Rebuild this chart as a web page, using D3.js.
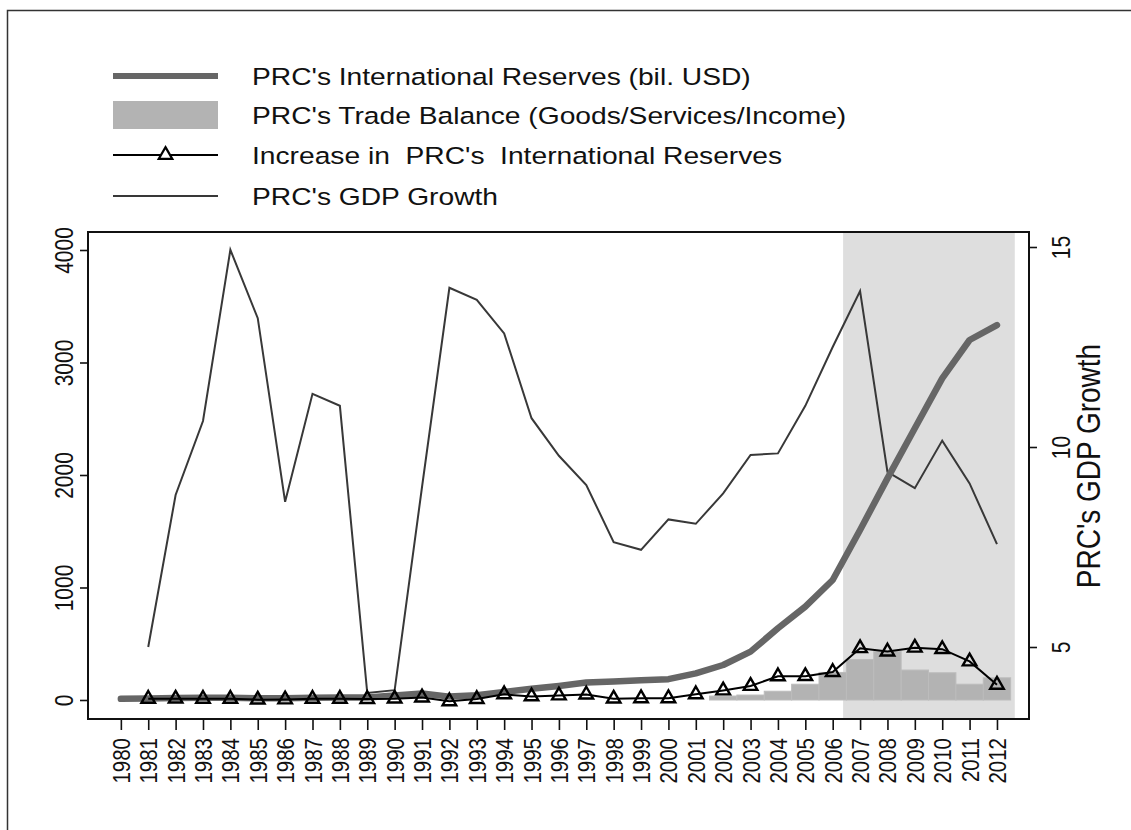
<!DOCTYPE html>
<html>
<head>
<meta charset="utf-8">
<script src="https://cdn.jsdelivr.net/npm/d3@7"></script>
<style>
  html, body { margin: 0; padding: 0; background: #fff; }
  svg { display: block; }
  text { font-family: "Liberation Sans", Arial, Helvetica, sans-serif; fill: #111; }
</style>
</head>
<body>
<svg id="chart" width="1131" height="830"></svg>
<script>
// ---------------- data ----------------
const years = d3.range(1980, 2013);
const reserves = [10, 14, 17, 19, 20, 16, 16, 20, 22, 22, 40, 58, 30, 42, 72, 100, 125, 155, 165, 175, 185, 237, 311, 430, 637, 830, 1067, 1511, 1970, 2415, 2859, 3200, 3333];
const incYears = d3.range(1981, 2013);
const increase = [10, 12, 10, 10, 3, 5, 10, 10, 8, 12, 22, -12, 8, 50, 32, 40, 48, 12, 15, 15, 50, 85, 125, 210, 212, 248, 460, 430, 465, 452, 343, 135];
const gdpYears = d3.range(1981, 2013);
const gdp = [5.0, 8.8, 10.65, 14.93, 13.22, 8.63, 11.33, 11.03, 3.85, 3.92, 9.0, 13.98, 13.68, 12.84, 10.72, 9.78, 9.05, 7.62, 7.43, 8.19, 8.08, 8.84, 9.8, 9.84, 11.03, 12.5, 13.9, 9.38, 8.97, 10.16, 9.09, 7.57];
const tradeYears = d3.range(2002, 2013);
const trade = [35, 44, 78, 140, 245, 360, 432, 266, 242, 140, 197];
const shadeSpan = [2006.38, 2012.65];
const leftTicks = [0, 1000, 2000, 3000, 4000];
const rightTicks = [5, 10, 15];
const legendLabels = [
  "PRC's International Reserves (bil. USD)",
  "PRC's Trade Balance (Goods/Services/Income)",
  "Increase in  PRC's  International Reserves",
  "PRC's GDP Growth"
];
const rightTitle = "PRC's GDP Growth";

// ---------------- layout ----------------
const SX = 1.2; // horizontal text stretch of the original
const plot = { l: 88, r: 1029, t: 232, b: 719 };
const svg = d3.select("#chart");

const x = d3.scaleLinear().domain([1978.8, 2013.17]).range([plot.l, plot.r]);
const yL = d3.scaleLinear().domain([-169, 4160]).range([plot.b, plot.t]);
const yR = d3.scaleLinear().domain([3.2, 15.375]).range([plot.b, plot.t]);
const step = x(1981) - x(1980);

// outer border
svg.append("rect").attr("x", 7.5).attr("y", 10.5).attr("width", 1200).attr("height", 900)
  .attr("fill", "none").attr("stroke", "#333").attr("stroke-width", 1.5);

// shading
svg.append("rect")
  .attr("x", x(shadeSpan[0])).attr("y", plot.t)
  .attr("width", x(shadeSpan[1]) - x(shadeSpan[0])).attr("height", plot.b - plot.t)
  .attr("fill", "#dedede");

// bars
svg.append("g").selectAll("rect").data(tradeYears).join("rect")
  .attr("x", d => x(d) - step / 2)
  .attr("width", step)
  .attr("y", (d, i) => yL(Math.max(0, trade[i])))
  .attr("height", (d, i) => Math.abs(yL(trade[i]) - yL(0)))
  .attr("fill", "#b3b3b3")
  .attr("stroke", "#bcbcbc").attr("stroke-width", 1);

// GDP line
svg.append("path")
  .datum(gdpYears.map((yr, i) => [yr, gdp[i]]))
  .attr("fill", "none").attr("stroke", "#383838").attr("stroke-width", 2)
  .attr("d", d3.line().x(d => x(d[0])).y(d => yR(d[1])));

// reserves thick line
svg.append("path")
  .datum(years.map((yr, i) => [yr, reserves[i]]))
  .attr("fill", "none").attr("stroke", "#666").attr("stroke-width", 6.5)
  .attr("stroke-linecap", "round").attr("stroke-linejoin", "round")
  .attr("d", d3.line().x(d => x(d[0])).y(d => yL(d[1])));

// increase line + triangles
const incData = incYears.map((yr, i) => [yr, increase[i]]);
svg.append("path")
  .datum(incData)
  .attr("fill", "none").attr("stroke", "#000").attr("stroke-width", 2)
  .attr("d", d3.line().x(d => x(d[0])).y(d => yL(d[1])));
const tri = d3.symbol().type(d3.symbolTriangle).size(80);
svg.append("g").selectAll("path").data(incData).join("path")
  .attr("transform", d => `translate(${x(d[0])},${yL(d[1])})`)
  .attr("d", tri)
  .attr("fill", "none").attr("stroke", "#000").attr("stroke-width", 2.4);

// frame
svg.append("rect").attr("x", plot.l).attr("y", plot.t)
  .attr("width", plot.r - plot.l).attr("height", plot.b - plot.t)
  .attr("fill", "none").attr("stroke", "#111").attr("stroke-width", 2);

// left axis
const gL = svg.append("g").attr("transform", `translate(${plot.l},0)`)
  .call(d3.axisLeft(yL).tickValues(leftTicks).tickSize(8).tickFormat(d3.format("d")));
gL.select(".domain").remove();
gL.selectAll(".tick line").attr("stroke", "#111").attr("stroke-width", 1.6);
gL.selectAll(".tick text")
  .attr("x", null).attr("dy", null).attr("y", null)
  .attr("transform", `translate(-15,0) scale(${SX},1) rotate(-90)`)
  .attr("text-anchor", "middle")
  .style("font-size", "21px").attr("fill", "#111");

// right axis
const gR = svg.append("g").attr("transform", `translate(${plot.r},0)`)
  .call(d3.axisRight(yR).tickValues(rightTicks).tickSize(8).tickFormat(d3.format("d")));
gR.select(".domain").remove();
gR.selectAll(".tick line").attr("stroke", "#111").attr("stroke-width", 1.6);
gR.selectAll(".tick text")
  .attr("x", null).attr("dy", null).attr("y", null)
  .attr("transform", `translate(41,0) scale(${SX},1) rotate(-90)`)
  .attr("text-anchor", "middle")
  .style("font-size", "21px").attr("fill", "#111");

svg.append("text")
  .attr("transform", `translate(1100,466) scale(${SX},1) rotate(-90)`)
  .attr("text-anchor", "middle")
  .style("font-size", "28px")
  .text(rightTitle);

// bottom axis
const gB = svg.append("g").attr("transform", `translate(0,${plot.b})`)
  .call(d3.axisBottom(x).tickValues(years).tickSize(11).tickFormat(d3.format("d")));
gB.select(".domain").remove();
gB.selectAll(".tick line").attr("stroke", "#111").attr("stroke-width", 1.6);
gB.selectAll(".tick text")
  .attr("x", null).attr("dy", null).attr("y", null)
  .attr("transform", `translate(8.5,19) scale(${SX},1) rotate(-90)`)
  .attr("text-anchor", "end")
  .style("font-size", "20.5px").attr("fill", "#111");

// legend
const lg = svg.append("g");
const lx0 = 113, lx1 = 218, tx = 252;
const rowsY = [76, 115, 155, 196];
lg.append("line").attr("x1", lx0).attr("x2", lx1).attr("y1", rowsY[0]).attr("y2", rowsY[0])
  .attr("stroke", "#666").attr("stroke-width", 6);
lg.append("rect").attr("x", lx0).attr("width", lx1 - lx0).attr("y", 101).attr("height", 28)
  .attr("fill", "#b3b3b3");
lg.append("line").attr("x1", lx0).attr("x2", lx1).attr("y1", rowsY[2]).attr("y2", rowsY[2])
  .attr("stroke", "#000").attr("stroke-width", 2);
lg.append("path").attr("transform", `translate(${(lx0 + lx1) / 2},${rowsY[2]})`)
  .attr("d", tri).attr("fill", "#fff").attr("stroke", "#000").attr("stroke-width", 2.2);
lg.append("line").attr("x1", lx0).attr("x2", lx1).attr("y1", rowsY[3]).attr("y2", rowsY[3])
  .attr("stroke", "#383838").attr("stroke-width", 2);
legendLabels.forEach((t, i) => {
  lg.append("text")
    .attr("transform", `translate(${tx},${rowsY[i] + 8.5}) scale(${SX},1)`)
    .style("font-size", "23.5px")
    .style("white-space", "pre")
    .attr("xml:space", "preserve")
    .text(t);
});
</script>
</body>
</html>
